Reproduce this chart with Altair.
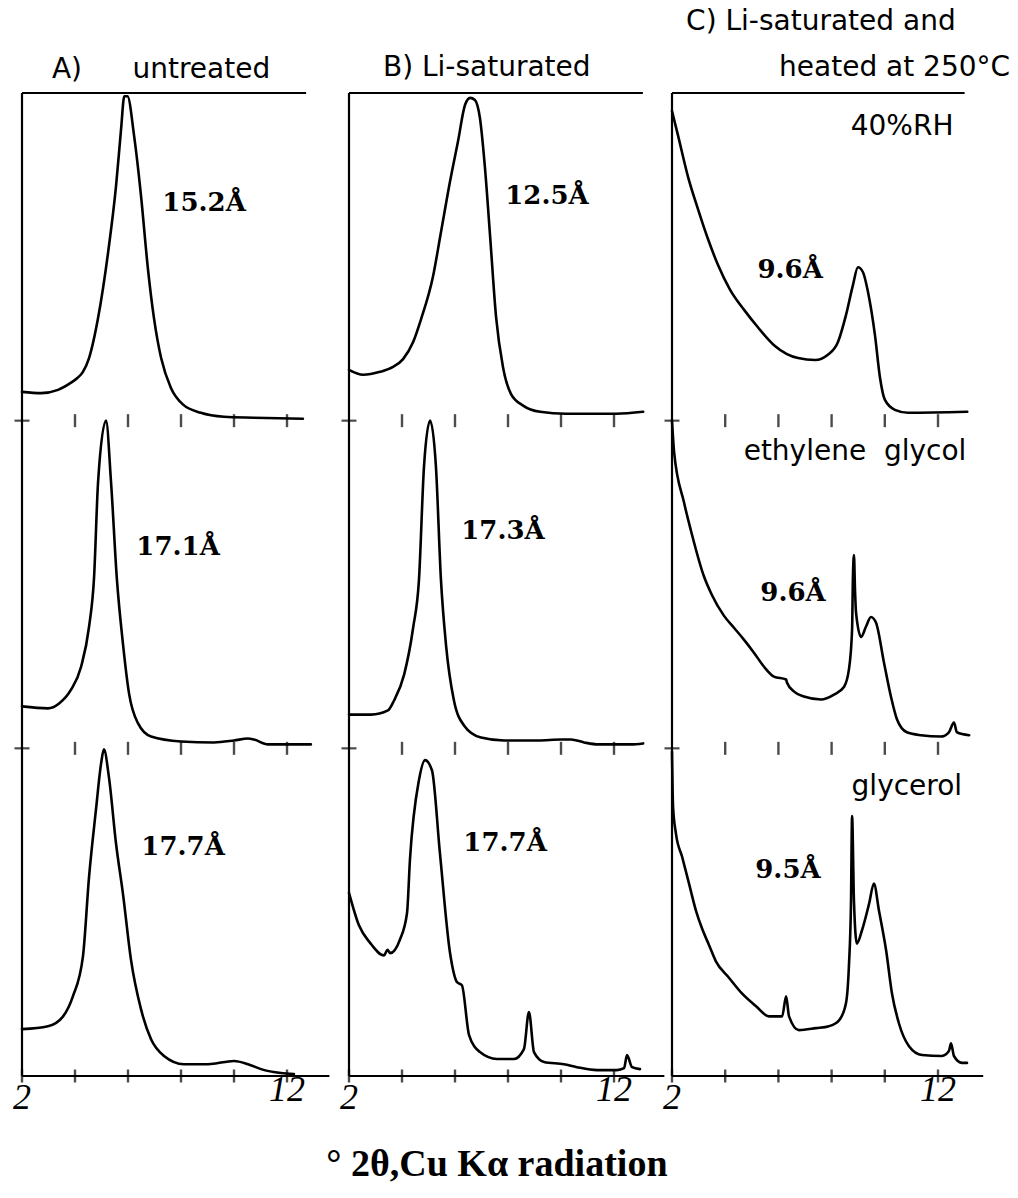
import altair as alt
import pandas as pd

# ---------------- data ----------------
# 2-theta (degrees) and relative intensity (0..1 within its own row)
A1_2theta = [2.0, 2.72, 3.36, 3.85, 4.10, 4.30, 4.53, 4.87, 5.25, 5.55, 5.74, 5.86, 5.98, 6.23, 6.49, 6.75, 6.98, 7.25, 7.62, 8.08, 8.75, 9.62, 10.75, 12.6]
A1_int = [0.088, 0.084, 0.094, 0.116, 0.131, 0.149, 0.191, 0.313, 0.514, 0.717, 0.891, 0.99, 0.99, 0.869, 0.687, 0.465, 0.313, 0.191, 0.100, 0.049, 0.024, 0.012, 0.009, 0.006]

A2_2theta = [2.0, 2.98, 3.40, 3.85, 4.23, 4.53, 4.72, 4.87, 5.17, 5.36, 5.58, 5.81, 6.04, 6.38, 6.87, 8.0, 9.25, 10.0, 10.53, 10.75, 11.28, 12.9]
A2_int = [0.128, 0.122, 0.137, 0.179, 0.249, 0.371, 0.523, 0.812, 1.0, 0.812, 0.517, 0.319, 0.167, 0.076, 0.036, 0.021, 0.018, 0.024, 0.030, 0.027, 0.012, 0.012]

A3_2theta = [2.0, 2.98, 3.55, 3.92, 4.30, 4.53, 4.79, 4.98, 5.09, 5.28, 5.55, 5.81, 6.11, 6.49, 6.87, 7.36, 8.11, 9.02, 10.0, 10.53, 11.02, 11.77, 12.26]
A3_int = [0.143, 0.152, 0.182, 0.243, 0.365, 0.608, 0.812, 0.951, 0.997, 0.912, 0.708, 0.556, 0.356, 0.204, 0.112, 0.061, 0.036, 0.036, 0.046, 0.036, 0.021, 0.009, 0.006]

B1_2theta = [2.0, 2.53, 3.17, 3.66, 4.04, 4.42, 4.72, 5.17, 5.47, 5.81, 6.11, 6.38, 6.57, 6.75, 6.94, 7.13, 7.32, 7.55, 7.81, 8.11, 8.57, 9.21, 10.19, 12.08, 13.1]
B1_int = [0.155, 0.140, 0.149, 0.164, 0.188, 0.240, 0.310, 0.440, 0.575, 0.729, 0.851, 0.964, 0.985, 0.979, 0.924, 0.772, 0.568, 0.316, 0.164, 0.082, 0.046, 0.027, 0.021, 0.021, 0.027]

B2_2theta = [2.0, 2.83, 3.47, 3.70, 4.08, 4.42, 4.64, 4.83, 5.06, 5.28, 5.47, 5.66, 5.96, 6.34, 6.98, 7.85, 9.13, 10.0, 10.38, 10.87, 11.40, 12.64, 13.1]
B2_int = [0.103, 0.103, 0.116, 0.146, 0.225, 0.368, 0.514, 0.860, 1.0, 0.860, 0.514, 0.316, 0.146, 0.070, 0.033, 0.024, 0.024, 0.027, 0.027, 0.018, 0.012, 0.012, 0.015]

B3_2theta = [2.0, 2.38, 2.79, 3.32, 3.45, 3.55, 3.92, 4.19, 4.30, 4.64, 4.87, 5.13, 5.43, 5.81, 6.08, 6.26, 6.53, 6.94, 7.58, 8.23, 8.60, 8.79, 8.98, 9.36, 10.11, 10.60, 11.36, 12.11, 12.38, 12.49, 12.68, 12.98]
B3_int = [0.559, 0.459, 0.407, 0.368, 0.385, 0.375, 0.416, 0.498, 0.660, 0.903, 0.964, 0.933, 0.681, 0.377, 0.286, 0.277, 0.125, 0.073, 0.052, 0.052, 0.082, 0.195, 0.073, 0.043, 0.036, 0.027, 0.018, 0.018, 0.024, 0.064, 0.027, 0.021]

C1_2theta = [2.0, 2.23, 2.60, 2.98, 3.35, 3.73, 4.18, 4.74, 5.23, 5.87, 6.74, 7.38, 7.86, 8.24, 8.54, 8.80, 8.99, 9.18, 9.37, 9.63, 9.82, 10.0, 10.38, 10.87, 13.1]
C1_int = [0.945, 0.869, 0.745, 0.645, 0.555, 0.475, 0.400, 0.335, 0.285, 0.228, 0.191, 0.185, 0.201, 0.240, 0.322, 0.413, 0.468, 0.453, 0.392, 0.261, 0.131, 0.064, 0.033, 0.024, 0.027]

C2_2theta = [2.0, 2.08, 2.45, 2.71, 3.20, 3.50, 3.95, 4.33, 4.71, 5.08, 5.46, 5.83, 6.29, 6.32, 6.59, 6.96, 7.60, 8.09, 8.47, 8.65, 8.77, 8.80, 8.84, 8.88, 8.92, 9.11, 9.29, 9.48, 9.67, 9.97, 10.23, 10.46, 10.83, 11.36, 12.11, 12.41, 12.60, 12.71, 13.17]
C2_int = [1.0, 0.903, 0.751, 0.665, 0.525, 0.468, 0.405, 0.368, 0.331, 0.292, 0.249, 0.219, 0.210, 0.201, 0.173, 0.158, 0.149, 0.164, 0.188, 0.240, 0.362, 0.514, 0.590, 0.483, 0.413, 0.340, 0.371, 0.401, 0.383, 0.261, 0.158, 0.088, 0.049, 0.040, 0.036, 0.049, 0.079, 0.049, 0.040]

C3_2theta = [2.0, 2.04, 2.15, 2.38, 2.64, 2.90, 3.13, 3.39, 3.65, 4.14, 4.63, 5.16, 5.65, 6.14, 6.29, 6.40, 6.77, 7.41, 7.90, 8.28, 8.54, 8.65, 8.73, 8.77, 8.84, 8.95, 9.14, 9.41, 9.59, 9.78, 10.05, 10.27, 10.53, 10.91, 11.40, 12.15, 12.41, 12.49, 12.60, 12.90, 13.09]
C3_int = [0.99, 0.821, 0.739, 0.669, 0.587, 0.505, 0.450, 0.400, 0.350, 0.300, 0.252, 0.213, 0.182, 0.182, 0.243, 0.182, 0.140, 0.146, 0.152, 0.170, 0.222, 0.334, 0.535, 0.793, 0.535, 0.404, 0.444, 0.526, 0.587, 0.505, 0.383, 0.252, 0.161, 0.091, 0.064, 0.061, 0.076, 0.100, 0.061, 0.040, 0.040]

# peak labels (d-spacings) and their positions: panel, 2-theta, stacked height
PEAK_PANEL = ["A", "A", "A", "B", "B", "B", "C", "C", "C"]
PEAK_TEXT = ["15.2Å", "17.1Å", "17.7Å", "12.5Å", "17.3Å", "17.7Å", "9.6Å", "9.6Å", "9.5Å"]
PEAK_X = [8.87, 7.89, 8.08, 9.47, 7.81, 7.89, 6.44, 6.55, 6.36]
PEAK_Y = [2.664, 1.614, 0.699, 2.685, 1.663, 0.711, 2.460, 1.474, 0.629]

NOTE_TEXT = ["40%RH", "ethylene\u00a0\u00a0glycol", "glycerol"]
NOTE_X = [10.65, 8.88, 10.83]
NOTE_Y = [2.896, 1.904, 0.882]

TITLE_PANEL = ["A", "A", "B", "C", "C"]
TITLE_TEXT = ["A)", "untreated", "B) Li-saturated", "C)\u00a0Li-saturated and", "heated at 250°C"]
TITLE_X = [3.13, 6.17, 3.28, 2.53, 14.71]
TITLE_Y = [3.07, 3.07, 3.076, 3.216, 3.076]
TITLE_ALIGN = ["left", "left", "left", "left", "right"]

TICK_POS = [4, 6, 8, 10, 12]
AXIS_LABELS = ["2", "12"]
AXIS_LABEL_X = [2, 12]
AXIS_LABEL_Y = [-0.067, -0.043]

XLABEL = "° 2θ,Cu Kα radiation"

# ---------------- tables ----------------
traces = {
    "A1": (A1_2theta, A1_int), "A2": (A2_2theta, A2_int), "A3": (A3_2theta, A3_int),
    "B1": (B1_2theta, B1_int), "B2": (B2_2theta, B2_int), "B3": (B3_2theta, B3_int),
    "C1": (C1_2theta, C1_int), "C2": (C2_2theta, C2_int), "C3": (C3_2theta, C3_int),
}
row_offset = {"1": 2.0, "2": 1.0, "3": 0.0}
rows = []
for name, (xs_, ys_) in traces.items():
    for i, (a, b) in enumerate(zip(xs_, ys_)):
        rows.append({"panel": name[0], "trace": name, "order": i,
                     "twotheta": a, "y": b + row_offset[name[1]]})
trace_df = pd.DataFrame(rows)

peaks_df = pd.DataFrame({"panel": PEAK_PANEL, "text": PEAK_TEXT, "x": PEAK_X, "y": PEAK_Y})
notes_df = pd.DataFrame({"text": NOTE_TEXT, "x": NOTE_X, "y": NOTE_Y})
titles_df = pd.DataFrame({"panel": TITLE_PANEL, "text": TITLE_TEXT, "x": TITLE_X,
                          "y": TITLE_Y, "align": TITLE_ALIGN})

WIDTH = {"A": 298, "B": 294, "C": 298}
XMAX = {"A": 13.245, "B": 13.094, "C": 13.203}
TOP_END = {"A": 12.72, "B": 13.09, "C": 13.0}
BOT_END = {"A": 13.6, "B": 13.9, "C": 13.7}
HEIGHT = 983


def panel_chart(p):
    xsc = alt.Scale(domain=[2, XMAX[p]], nice=False, zero=False)
    ysc = alt.Scale(domain=[0, 3], nice=False, zero=False)

    def X(f):
        return alt.X(f, type="quantitative", scale=xsc, axis=None)

    def Y(f):
        return alt.Y(f, type="quantitative", scale=ysc, axis=None)

    layers = []
    lines = alt.Chart(trace_df[trace_df.panel == p]).mark_line(
        color="black", strokeWidth=2.6, interpolate="monotone", strokeJoin="round", strokeCap="round"
    ).encode(x=X("twotheta"), y=Y("y"), detail="trace:N", order="order:Q")
    layers.append(lines)

    frame_df = pd.DataFrame({
        "x": [2, 2, 2], "x2": [2, TOP_END[p], BOT_END[p]],
        "y": [0, 3, 0], "y2": [3, 3, 0],
    })
    layers.append(alt.Chart(frame_df).mark_rule(color="black", strokeWidth=2.2).encode(
        x=X("x"), x2="x2:Q", y=Y("y"), y2="y2:Q"))

    vt = pd.DataFrame([{"x": t, "y": r} for r in [0, 1, 2] for t in TICK_POS] + [{"x": 2, "y": 0}])
    layers.append(alt.Chart(vt).mark_tick(orient="vertical", size=13, thickness=2.4, color="black")
                  .encode(x=X("x"), y=Y("y")))
    ht = pd.DataFrame({"x": [2, 2], "y": [1, 2]})
    layers.append(alt.Chart(ht).mark_tick(orient="horizontal", size=15, thickness=2.2, color="black")
                  .encode(x=X("x"), y=Y("y")))

    layers.append(alt.Chart(peaks_df[peaks_df.panel == p]).mark_text(
        font="DejaVu Serif", fontWeight="bold", fontSize=26, color="black",
        align="center", baseline="middle").encode(x=X("x"), y=Y("y"), text="text:N"))

    if p == "C":
        layers.append(alt.Chart(notes_df).mark_text(
            font="DejaVu Sans", fontSize=28, color="black", align="center", baseline="middle"
        ).encode(x=X("x"), y=Y("y"), text="text:N"))

    tdf = titles_df[titles_df.panel == p]
    for al in ["left", "right"]:
        sub = tdf[tdf["align"] == al]
        if len(sub):
            layers.append(alt.Chart(sub).mark_text(
                font="DejaVu Sans", fontSize=28, color="black", align=al, baseline="middle"
            ).encode(x=X("x"), y=Y("y"), text="text:N"))

    adf = pd.DataFrame({"text": AXIS_LABELS, "x": AXIS_LABEL_X, "y": AXIS_LABEL_Y})
    layers.append(alt.Chart(adf).mark_text(
        font="Liberation Serif", fontStyle="italic", fontSize=36, color="black",
        align="center", baseline="middle").encode(x=X("x"), y=Y("y"), text="text:N"))

    if p == "B":
        xl = pd.DataFrame({"text": [XLABEL], "x": [7.58], "y": [-0.272]})
        layers.append(alt.Chart(xl).mark_text(
            font="Liberation Serif", fontWeight="bold", fontSize=38, color="black",
            align="center", baseline="middle").encode(x=X("x"), y=Y("y"), text="text:N"))

    return alt.layer(*layers).properties(width=WIDTH[p], height=HEIGHT)


chart = alt.hconcat(panel_chart("A"), panel_chart("B"), panel_chart("C"),
                    spacing=29, bounds="flush").properties(
    padding={"left": 13, "top": 8, "right": 0, "bottom": 0},
    background="white",
).configure_view(stroke=None)

chart.save("out.html", embed_options={"renderer": "svg", "actions": False})
